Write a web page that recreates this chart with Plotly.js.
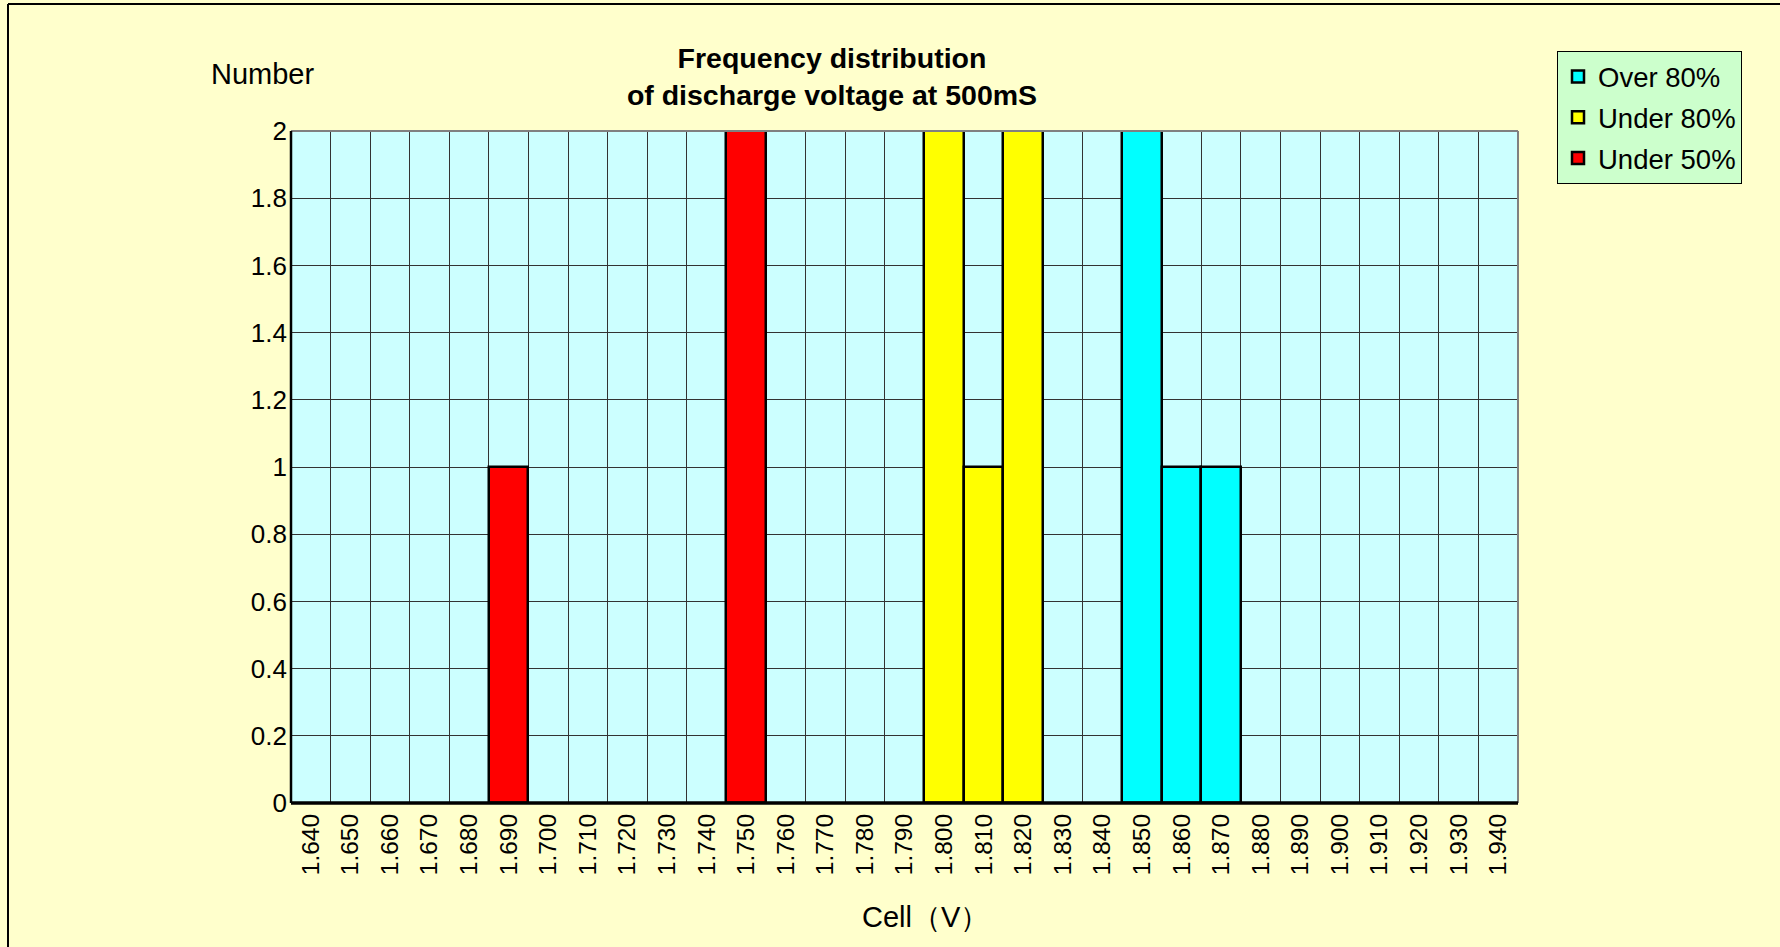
<!DOCTYPE html>
<html>
<head>
<meta charset="utf-8">
<script src="https://cdn.plot.ly/plotly-3.0.1.min.js"></script>
<style>
html,body{margin:0;padding:0;background:#FFFFCC;}
#chart{width:1780px;height:947px;}
</style>
</head>
<body>
<div id="chart"></div>
<script>
var categories = ["1.640","1.650","1.660","1.670","1.680","1.690","1.700","1.710","1.720","1.730","1.740","1.750","1.760","1.770","1.780","1.790","1.800","1.810","1.820","1.830","1.840","1.850","1.860","1.870","1.880","1.890","1.900","1.910","1.920","1.930","1.940"];
var seriesNames = ["Over 80%","Under 80%","Under 50%"];
var over80 = [null,null,null,null,null,null,null,null,null,null,null,null,null,null,null,null,null,null,null,null,null,2,1,1,null,null,null,null,null,null,null];
var under80 = [null,null,null,null,null,null,null,null,null,null,null,null,null,null,null,null,2,1,2,null,null,null,null,null,null,null,null,null,null,null,null];
var under50 = [null,null,null,null,null,1,null,null,null,null,null,2,null,null,null,null,null,null,null,null,null,null,null,null,null,null,null,null,null,null,null];
var yTicks = [0,0.2,0.4,0.6,0.8,1,1.2,1.4,1.6,1.8,2];
var colors = ["#00FFFF","#FFFF00","#FF0000"];

var FONT = "Liberation Sans, Arial, sans-serif";
var L = 291, R = 1518, T = 131, B = 803, W = 1780, H = 947;
var pw = R - L, ph = B - T;
function px(x){ return (x - L) / pw; }
function py(y){ return (B - y) / ph; }

var values = [over80, under80, under50];
var traces = values.map(function(v, i){
  return {
    type: "bar",
    name: seriesNames[i],
    legendgroup: "g" + i,
    x: categories,
    y: v,
    marker: {color: colors[i], line: {color: "#000000", width: 2.5}},
    hoverinfo: "x+y+name"
  };
});

var layout = {
  width: W, height: H,
  paper_bgcolor: "#FFFFCC",
  plot_bgcolor: "#CCFFFF",
  margin: {l: L, r: W - R, t: T, b: H - B, pad: 0},
  barmode: "overlay",
  bargap: 0,
  font: {family: FONT, color: "#000000", size: 24},
  title: {
    text: "Frequency distribution<br>of discharge voltage at 500mS",
    font: {family: FONT, size: 28.5, weight: "bold", color: "#000000"},
    xref: "paper", x: px(832), xanchor: "center",
    yref: "container", y: 1 - 68 / H, yanchor: "middle"
  },
  xaxis: {
    type: "category",
    categoryorder: "array",
    categoryarray: categories,
    range: [-0.5, categories.length - 0.5],
    tickson: "boundaries",
    showgrid: true,
    gridcolor: "#333333",
    gridwidth: 1,
    ticks: "",
    ticklabelstandoff: 5,
    tickangle: -90,
    tickfont: {family: FONT, size: 24.5, color: "#000000"},
    showline: false,
    zeroline: false,
    fixedrange: true
  },
  yaxis: {
    range: [0, 2],
    tickvals: yTicks,
    ticktext: yTicks.map(function(v){ return String(v); }),
    showgrid: true,
    gridcolor: "#333333",
    gridwidth: 1,
    ticks: "",
    ticklabelstandoff: 3,
    tickfont: {family: FONT, size: 26, color: "#000000"},
    showline: false,
    zeroline: false,
    fixedrange: true
  },
  legend: {
    x: px(1557), y: py(51), xanchor: "left", yanchor: "top",
    bgcolor: "#CCFFCC", bordercolor: "#000000", borderwidth: 1,
    font: {family: FONT, size: 27.5, color: "#000000"},
    traceorder: "normal+grouped",
    itemwidth: 30,
    tracegroupgap: 2
  },
  annotations: [
    {text: "Number", xref: "paper", yref: "paper", x: px(262), y: py(74),
     xanchor: "center", yanchor: "middle", showarrow: false,
     font: {family: FONT, size: 29, color: "#000000"}},
    {text: "Cell\uFF08V\uFF09", xref: "paper", yref: "paper", x: px(925), y: py(917),
     xanchor: "center", yanchor: "middle", showarrow: false,
     font: {family: FONT, size: 29, color: "#000000"}}
  ],
  shapes: [
    {type: "line", xref: "paper", yref: "paper", x0: 0, x1: 1, y0: 1, y1: 1, line: {color: "#808080", width: 2}},
    {type: "line", xref: "paper", yref: "paper", x0: 1, x1: 1, y0: 0, y1: 1, line: {color: "#808080", width: 2}},
    {type: "line", xref: "paper", yref: "paper", x0: 0, x1: 0, y0: 0, y1: 1, line: {color: "#000000", width: 2.5}},
    {type: "line", xref: "paper", yref: "paper", x0: 0, x1: 1, y0: 0, y1: 0, line: {color: "#000000", width: 3.5}},
    {type: "line", xref: "paper", yref: "paper", x0: px(8), x1: px(8), y0: py(H + 20), y1: py(4), line: {color: "#000000", width: 2}},
    {type: "line", xref: "paper", yref: "paper", x0: px(8), x1: px(W + 20), y0: py(4), y1: py(4), line: {color: "#000000", width: 2}}
  ]
};

Plotly.newPlot("chart", traces, layout, {displayModeBar: false});
</script>
</body>
</html>
